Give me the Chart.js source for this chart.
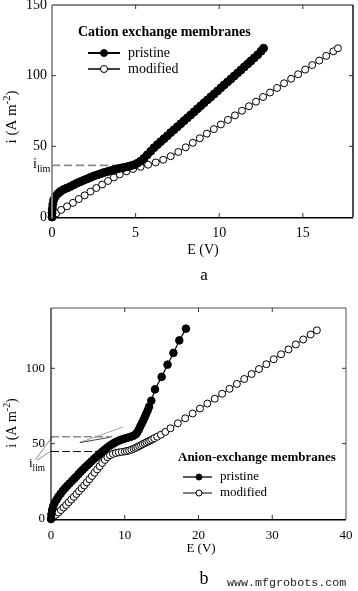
<!DOCTYPE html>
<html><head><meta charset="utf-8">
<script src="https://cdn.jsdelivr.net/npm/chart.js@4.4.1/dist/chart.umd.min.js"></script>
<style>
html,body{margin:0;padding:0;background:#fff;}
body{width:358px;height:591px;position:relative;overflow:hidden}
canvas{position:absolute;left:0;display:block}
</style></head><body>
<canvas id="ca" width="358" height="290" style="top:0"></canvas>
<canvas id="cb" width="358" height="301" style="top:290px"></canvas>
<script>
// ---------- Panel a: cation exchange membranes ----------
const aXTicks = [0, 5, 10, 15];
const aYTicks = [0, 50, 100, 150];
const cationPristineE = [0,0,0.02,0.05,0.1,0.2,0.35,0.5,0.7,0.9,1.1,1.3,1.5,1.7,1.9,2.1,2.3,2.5,2.7,2.9,3.1,3.3,3.5,3.7,3.9,4.1,4.3,4.5,4.7,4.9,5.1,5.3,5.5,5.7,5.9,6.1,6.3,6.5,6.7,6.9,7.1,7.3,7.5,7.7,7.9,8.1,8.3,8.5,8.7,8.9,9.1,9.3,9.5,9.7,9.9,10.1,10.3,10.5,10.7,10.9,11.1,11.3,11.5,11.7,11.9,12.1,12.3,12.5,12.65];
const cationPristineI = [0,3,6,9,12,14.5,16.5,18,19.5,20.5,21.5,22.8,24,25,26,27,28,29,29.8,30.6,31.4,32.1,32.8,33.4,34,34.6,35.1,35.6,36.2,36.9,38,39.5,41.5,44,46.5,49,51.2,53.3,55.4,57.5,59.7,61.8,63.9,66,68.1,70.2,72.3,74.4,76.6,78.7,80.8,82.9,85,87.1,89.2,91.4,93.5,95.6,97.7,99.8,101.9,104,106.2,108.3,110.4,112.6,114.8,117.3,119.4];
const cationModifiedE = [0,0.25,0.55,0.9,1.25,1.6,1.95,2.3,2.65,3.0,3.35,3.7,4.05,4.45,4.85,5.3,5.75,6.2,6.65,7.1,7.55,8.0,8.42,8.84,9.26,9.68,10.1,10.52,10.94,11.36,11.78,12.2,12.62,13.04,13.46,13.88,14.3,14.72,15.14,15.56,15.98,16.4,16.82,17.1];
const cationModifiedI = [0,2.5,5,7.5,10,12.7,15.3,18,20.5,23,25.5,28,30.2,32.3,34,35.5,37,38.6,40.5,43,46,49.3,52.5,55.7,59,62.2,65.5,68.7,71.9,75.2,78.4,81.6,84.9,88.1,91.3,94.6,97.8,101,104.3,107.5,110.7,114,117.2,119.4];
const cationLimE = [0, 4.8];
const cationLimI = [36.5, 36.5];

// ---------- Panel b: anion exchange membranes ----------
const bXTicks = [0, 10, 20, 30, 40];
const bYTicks = [0, 50, 100];
const anionPristineE = [0,0.05,0.15,0.3,0.5,0.75,1.0,1.3,1.6,1.9,2.2,2.5,2.8,3.1,3.4,3.7,4.0,4.3,4.6,4.9,5.2,5.5,5.8,6.1,6.4,6.7,7.0,7.3,7.6,7.9,8.2,8.5,8.8,9.1,9.4,9.7,10.0,10.3,10.6,10.9,11.2,11.5,11.7,11.9,12.1,12.3,12.5,12.7,12.9,13.1,13.3,13.6,14.1,15.0,15.8,16.6,17.4,18.3];
const anionPristineI = [0,3,6,8.5,10.8,12.8,14.8,16.8,18.7,20.4,22,23.5,25,26.5,28,29.6,31.2,32.7,34.1,35.5,36.9,38.3,39.7,41,42.3,43.6,44.9,46.1,47.3,48.4,49.4,50.3,51.1,51.8,52.4,52.9,53.4,53.8,54.2,54.7,55.3,56.2,57.5,59.3,61.3,63.3,65.3,67.5,69.7,72,74.5,78.5,86,94.3,102.4,110.2,118.5,126.3];
const anionModifiedE = [0,0.3,0.65,1.0,1.35,1.7,2.05,2.4,2.75,3.1,3.45,3.8,4.15,4.5,4.85,5.2,5.55,5.9,6.25,6.6,6.95,7.3,7.65,8.0,8.4,8.8,9.2,9.6,10.0,10.3,10.6,10.9,11.2,11.45,11.7,11.95,12.2,12.45,12.7,12.95,13.2,13.45,13.7,14.0,14.4,14.9,15.5,16.2,17.2,18.2,19.2,20.2,21.2,22.2,23.2,24.2,25.2,26.2,27.2,28.2,29.2,30.2,31.2,32.2,33.2,34.2,35.2,36.05];
const anionModifiedI = [0,1.2,2.8,4.3,5.9,7.6,9.3,11.1,12.9,14.7,16.6,18.5,20.4,22.3,24.3,26.4,28.5,30.7,32.9,35,37.2,39.2,41,42.3,43.2,43.8,44.2,44.5,44.8,45.1,45.5,46,46.6,47.2,47.8,48.4,49,49.7,50.3,50.9,51.5,52.1,52.8,53.6,54.6,55.9,57.8,60.2,63.5,66.8,70,73.3,76.6,79.8,83.1,86.4,89.6,92.9,96.2,99.5,102.7,106,109.3,112.5,115.8,119.1,122.4,125.2];
const anionLimUpperE = [0, 8.3];
const anionLimUpperI = [54.5, 54.5];
const anionLimLowerE = [0, 7.5];
const anionLimLowerI = [44.8, 44.8];
const anionLeadUpperE = [-2.1, 0.25];
const anionLeadUpperI = [39.5, 55];
const anionLeadLowerE = [-1.9, 0.1];
const anionLeadLowerI = [39, 45.5];
const anionTanFlatE = [3.9, 8.0];
const anionTanFlatI = [50.7, 54.2];
const anionTanRiseE = [3.9, 9.8];
const anionTanRiseI = [50.7, 61.1];
const anionTanModE = [6.0, 9.0];
const anionTanModI = [34, 48.5];

// ---------- helpers ----------
const SERIF = "'Liberation Serif','Times New Roman',serif";
const MONO = "'Liberation Mono','DejaVu Sans Mono',monospace";
const GRAY = '#8a8a8a';
const pts = (xs, ys) => xs.map((x, k) => ({x: x, y: ys[k]}));
const fixedTicks = values => s => { s.ticks = values.map(v => ({value: v})); };
const fixSize = (prop, val) => s => { s[prop] = val; s.paddingTop = 0; s.paddingBottom = 0; s.paddingLeft = 0; s.paddingRight = 0; };
function guideSet(xs, ys, color, width, dash) {
  return {data: pts(xs, ys), borderColor: color, borderWidth: width, borderDash: dash || [],
          pointRadius: 0, clip: false, fill: false, tension: 0};
}
function seriesSet(label, xs, ys, filled, r, lw) {
  return {label: label, data: pts(xs, ys), borderColor: '#000', borderWidth: lw,
          pointRadius: r, pointHoverRadius: r, pointBorderWidth: 1, pointBorderColor: '#000',
          pointBackgroundColor: filled ? '#000' : '#fff', backgroundColor: filled ? '#000' : '#fff',
          fill: false, tension: 0, clip: false};
}
function drawYTitle(ctx, cx, cy, size) {
  ctx.save();
  ctx.translate(cx, cy);
  ctx.rotate(-Math.PI / 2);
  ctx.fillStyle = '#000';
  ctx.textBaseline = 'alphabetic';
  ctx.textAlign = 'left';
  const main = 'i (A m', sup = '-2', end = ')';
  ctx.font = size + 'px ' + SERIF;
  const w1 = ctx.measureText(main).width, w3 = ctx.measureText(end).width;
  ctx.font = (size * 0.7) + 'px ' + SERIF;
  const w2 = ctx.measureText(sup).width;
  let x = -(w1 + w2 + w3) / 2;
  const base = size * 0.33;
  ctx.font = size + 'px ' + SERIF; ctx.fillText(main, x, base); x += w1;
  ctx.font = (size * 0.7) + 'px ' + SERIF; ctx.fillText(sup, x, base - size * 0.42); x += w2;
  ctx.font = size + 'px ' + SERIF; ctx.fillText(end, x, base);
  ctx.restore();
}
function drawLim(ctx, x, y, size) {
  ctx.textAlign = 'left'; ctx.textBaseline = 'alphabetic'; ctx.fillStyle = '#000';
  ctx.font = size + 'px ' + SERIF; ctx.fillText('i', x, y);
  const w = ctx.measureText('i').width;
  ctx.font = (size * 0.72) + 'px ' + SERIF; ctx.fillText('lim', x + w, y + size * 0.3);
}
function decor(cfg) {
  return {id: 'decor', afterDraw(chart) {
    const ctx = chart.ctx, a = chart.chartArea, xs = chart.scales.x, ys = chart.scales.y;
    const seg = (x1, y1, x2, y2, c, w) => { ctx.beginPath(); ctx.strokeStyle = c; ctx.lineWidth = w; ctx.setLineDash([]); ctx.moveTo(x1, y1); ctx.lineTo(x2, y2); ctx.stroke(); };
    ctx.save();
    const f = cfg.frame;
    seg(a.left, a.top, a.right, a.top, f.top, f.wTop);
    seg(a.right, a.top, a.right, a.bottom, f.right, f.wRight);
    seg(a.left, a.bottom + 0.75, a.right, a.bottom + 0.75, f.bottom, f.wBottom);
    seg(a.left, a.top, a.left, a.bottom + 1.5, f.left, f.wLeft);
    xs.ticks.forEach(t => {
      if (t.value <= xs.min || t.value >= xs.max) return;
      const p = xs.getPixelForValue(t.value);
      seg(p, a.bottom, p, a.bottom - 4, '#333', 1);
      seg(p, a.top, p, a.top + 4, '#333', 1);
    });
    ys.ticks.forEach(t => {
      if (t.value <= ys.min || t.value >= ys.max) return;
      const p = ys.getPixelForValue(t.value);
      seg(a.left, p, a.left + 4, p, '#333', 1);
      seg(a.right, p, a.right - 4, p, '#333', 1);
    });
    drawYTitle(ctx, cfg.yTitle.x, cfg.yTitle.y, cfg.yTitle.size);
    ctx.fillStyle = '#000'; ctx.textAlign = 'center'; ctx.textBaseline = 'middle';
    ctx.font = cfg.xTitle.size + 'px ' + SERIF;
    ctx.fillText('E (V)', cfg.xTitle.x, cfg.xTitle.y);
    ctx.font = cfg.letter.size + 'px ' + SERIF;
    ctx.fillText(cfg.letter.text, cfg.letter.x, cfg.letter.y);
    cfg.lim.forEach(l => drawLim(ctx, l.x, l.y, l.size));
    // legend
    const L = cfg.legend, ds = chart.data.datasets;
    ctx.textAlign = 'left'; ctx.textBaseline = 'middle'; ctx.fillStyle = '#000';
    ctx.font = 'bold ' + L.titleSize + 'px ' + SERIF;
    ctx.fillText(L.title, L.x, L.titleY);
    [0, 1].forEach(k => {
      const d = ds[k], y = L.ys[k];
      seg(L.lx0, y, L.lx1, y, '#000', L.lw[k]);
      ctx.beginPath(); ctx.arc(L.mx, y, L.r, 0, Math.PI * 2);
      ctx.fillStyle = d.pointBackgroundColor; ctx.fill();
      ctx.lineWidth = 1; ctx.strokeStyle = '#000'; ctx.stroke();
      ctx.fillStyle = '#000'; ctx.font = L.size + 'px ' + SERIF;
      ctx.fillText(d.label, L.tx, y);
    });
    if (cfg.mark) {
      ctx.font = cfg.mark.size + 'px ' + MONO; ctx.fillStyle = '#222';
      ctx.textAlign = 'left'; ctx.textBaseline = 'middle';
      ctx.fillText(cfg.mark.text, cfg.mark.x, cfg.mark.y);
    }
    ctx.restore();
  }};
}
function makeOptions(o) {
  return {
    responsive: false, animation: false, devicePixelRatio: 1, events: [],
    layout: {padding: {top: o.padTop, right: o.padRight, left: 0, bottom: 0}},
    plugins: {legend: {display: false}, tooltip: {enabled: false}, title: {display: false}},
    scales: {
      x: {type: 'linear', min: o.xMin, max: o.xMax, afterBuildTicks: fixedTicks(o.xTicks),
          afterFit: fixSize('height', o.xHeight),
          grid: {display: false, drawTicks: false}, border: {display: false},
          ticks: {font: {family: SERIF, size: o.tickSize}, color: '#000', padding: o.xPad, maxRotation: 0, autoSkip: false}},
      y: {type: 'linear', min: o.yMin, max: o.yMax, afterBuildTicks: fixedTicks(o.yTicks),
          afterFit: fixSize('width', o.yWidth),
          grid: {display: false, drawTicks: false}, border: {display: false},
          ticks: {font: {family: SERIF, size: o.tickSize}, color: '#000', padding: o.yPad, autoSkip: false}}
    }
  };
}

// ---------- chart a ----------
new Chart(document.getElementById('ca'), {
  type: 'line',
  data: {datasets: [
    seriesSet('pristine', cationPristineE, cationPristineI, true, 4, 2),
    seriesSet('modified', cationModifiedE, cationModifiedI, false, 3.5, 1),
    guideSet(cationLimE, cationLimI, GRAY, 1.6, [8, 4])
  ]},
  options: makeOptions({padTop: 5, padRight: 0.5, xMin: 0, xMax: 18, yMin: 0, yMax: 150,
    xTicks: aXTicks, yTicks: aYTicks, xHeight: 73, yWidth: 52, tickSize: 14, xPad: 8, yPad: 5}),
  plugins: [decor({
    frame: {top: '#111', wTop: 1, right: '#111', wRight: 1.5, bottom: '#000', wBottom: 1.5, left: GRAY, wLeft: 1.8},
    yTitle: {x: 11, y: 117, size: 15},
    xTitle: {x: 203, y: 250, size: 14},
    letter: {text: 'a', x: 204, y: 276, size: 17},
    lim: [{x: 33, y: 168, size: 14}],
    legend: {title: 'Cation exchange membranes', titleSize: 14, x: 78, titleY: 32,
             lx0: 88, lx1: 120, mx: 104, r: 3.5, lw: [2, 1.5], tx: 128, ys: [53, 69], size: 14}
  })]
});

// ---------- chart b ----------
new Chart(document.getElementById('cb'), {
  type: 'line',
  data: {datasets: [
    seriesSet('pristine', anionPristineE, anionPristineI, true, 3.8, 1.2),
    seriesSet('modified', anionModifiedE, anionModifiedI, false, 3.5, 1),
    guideSet(anionLimUpperE, anionLimUpperI, GRAY, 1.5, [8, 3]),
    guideSet(anionLimLowerE, anionLimLowerI, '#111', 1.2, [8, 3]),
    guideSet(anionLeadUpperE, anionLeadUpperI, '#555', 0.7),
    guideSet(anionLeadLowerE, anionLeadLowerI, '#555', 0.7),
    guideSet(anionTanFlatE, anionTanFlatI, '#111', 0.8),
    guideSet(anionTanRiseE, anionTanRiseI, GRAY, 0.8),
    guideSet(anionTanModE, anionTanModI, GRAY, 0.8)
  ]},
  options: makeOptions({padTop: 18, padRight: 12, xMin: 0, xMax: 40, yMin: 0, yMax: 140,
    xTicks: bXTicks, yTicks: bYTicks, xHeight: 72, yWidth: 51, tickSize: 13, xPad: 9, yPad: 6}),
  plugins: [decor({
    frame: {top: GRAY, wTop: 1.5, right: GRAY, wRight: 1.5, bottom: '#000', wBottom: 1.5, left: '#111', wLeft: 1.2},
    yTitle: {x: 11, y: 133, size: 14},
    xTitle: {x: 201, y: 259, size: 13},
    letter: {text: 'b', x: 204, y: 289, size: 18},
    lim: [{x: 29, y: 177, size: 13}],
    legend: {title: 'Anion-exchange membranes', titleSize: 13, x: 178, titleY: 168,
             lx0: 183, lx1: 212, mx: 199, r: 3, lw: [1.3, 1], tx: 220, ys: [187, 203], size: 13},
    mark: {text: 'www.mfgrobots.com', x: 227, y: 293, size: 11.7}
  })]
});
</script>
</body></html>
